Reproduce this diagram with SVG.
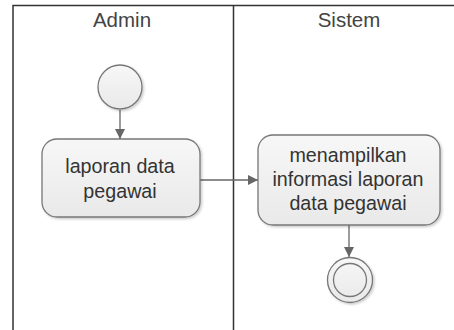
<svg xmlns="http://www.w3.org/2000/svg" width="454" height="330" viewBox="0 0 454 330">
<defs>
<linearGradient id="g" x1="0" y1="0" x2="0" y2="1">
<stop offset="0" stop-color="#f7f7f7"/>
<stop offset="1" stop-color="#e9e9e9"/>
</linearGradient>
<filter id="sh" x="-20%" y="-20%" width="140%" height="140%">
<feDropShadow dx="1.5" dy="1.5" stdDeviation="1.2" flood-color="#000" flood-opacity="0.2"/>
</filter>
<marker id="arr" viewBox="0 0 10 10" refX="10" refY="5" markerWidth="10" markerHeight="10" markerUnits="userSpaceOnUse" orient="auto">
<path d="M0,0 L10,5 L0,10 z" fill="#666"/>
</marker>
</defs>
<style>
.lane{fill:none;stroke:#333;stroke-width:1.5}
.hdr{font-family:"Liberation Sans",Arial,sans-serif;font-size:20.5px;fill:#444;text-anchor:middle}
.box{fill:url(#g);stroke:#777;stroke-width:1.3;filter:url(#sh)}
.txt{font-family:"Liberation Sans",Arial,sans-serif;font-size:19.7px;fill:#333;text-anchor:middle}
.con{fill:none;stroke:#666;stroke-width:1.3;marker-end:url(#arr)}
</style>
<rect width="454" height="330" fill="#fff"/>
<g id="lanes">
<path class="lane" d="M13,331 V5.5 H455"/>
<path class="lane" d="M233.5,5.5 V331"/>
<text class="hdr" x="122" y="27">Admin</text>
<text class="hdr" x="349" y="27">Sistem</text>
</g>
<g id="connectors">
<path class="con" d="M120,110 V139"/>
<path class="con" d="M200,180 H258"/>
<path class="con" d="M349,225 V257"/>
</g>
<g id="start">
<circle cx="120" cy="87" r="22" class="box"/>
</g>
<g id="laporan">
<rect x="42" y="139" width="158" height="78" rx="15" class="box"/>
<text class="txt" x="120" y="173">laporan data</text>
<text class="txt" x="120" y="198">pegawai</text>
</g>
<g id="menampilkan">
<rect x="258" y="135" width="182" height="90" rx="15" class="box"/>
<text class="txt" x="348" y="162">menampilkan</text>
<text class="txt" x="348" y="186">informasi laporan</text>
<text class="txt" x="348" y="210">data pegawai</text>
</g>
<g id="end">
<circle cx="350" cy="280" r="22.5" class="box"/>
<circle cx="350" cy="280" r="16.5" fill="none" stroke="#777" stroke-width="1.3"/>
</g>
</svg>
